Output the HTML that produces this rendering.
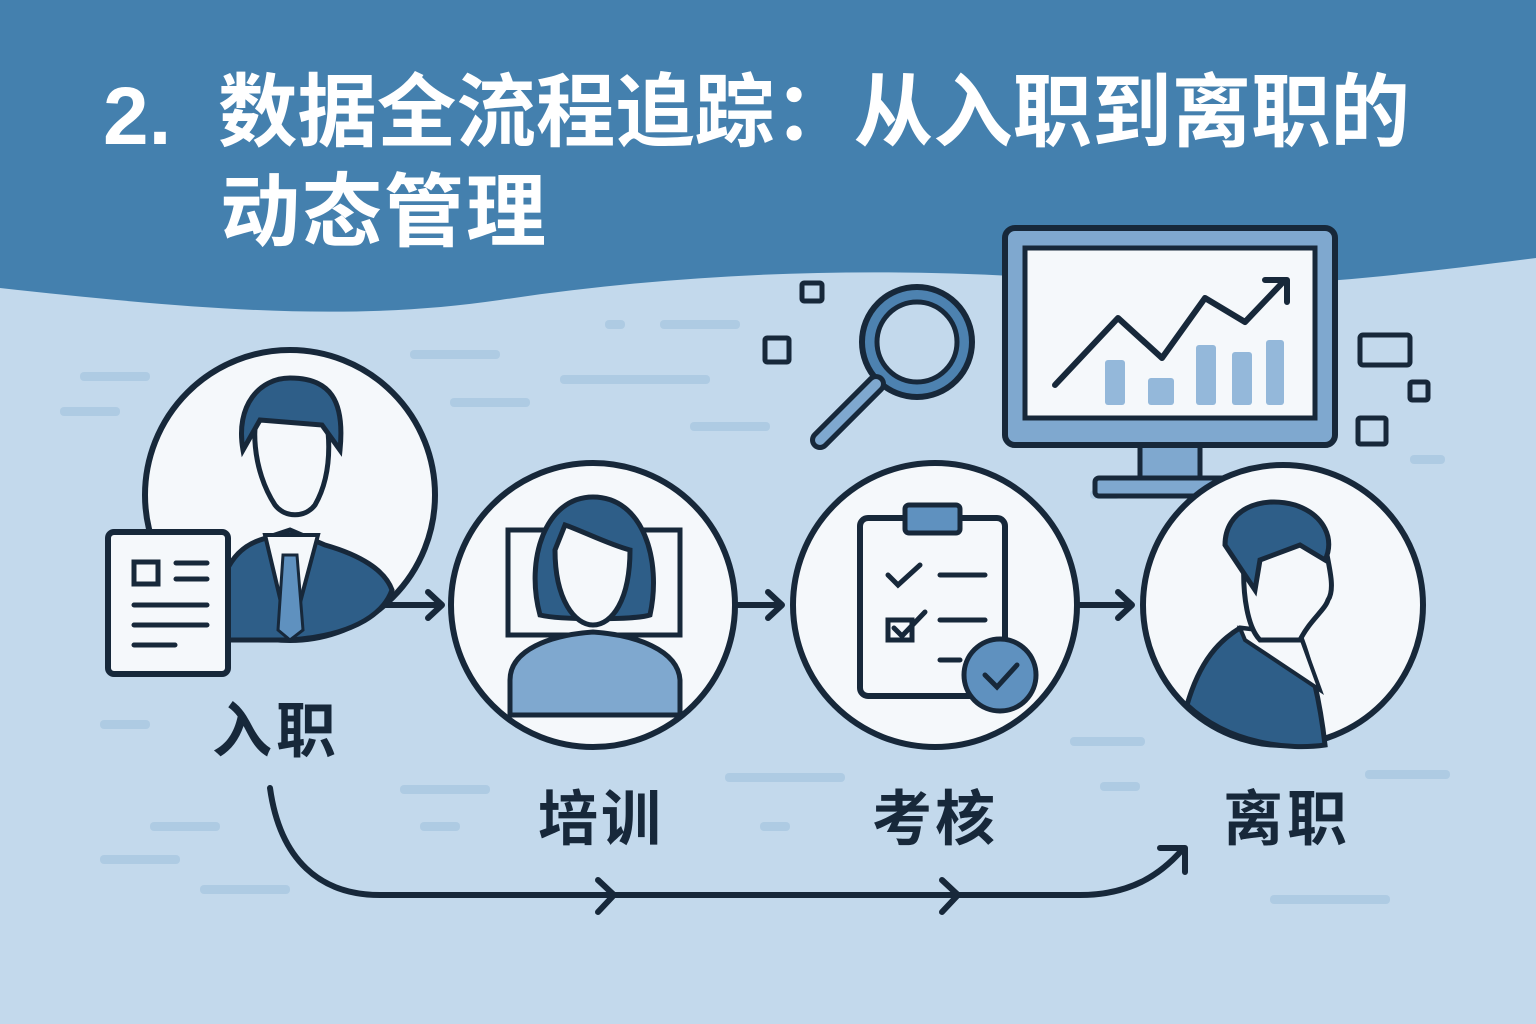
<!DOCTYPE html>
<html><head><meta charset="utf-8"><style>
html,body{margin:0;padding:0;width:1536px;height:1024px;overflow:hidden;background:#c3d9ec}
svg{display:block}
text{font-family:"Liberation Sans","Noto Sans CJK SC",sans-serif;font-weight:bold}
</style></head><body>
<svg width="1536" height="1024" viewBox="0 0 1536 1024" xmlns="http://www.w3.org/2000/svg">
<rect width="1536" height="1024" fill="#c3d9ec"/>
<path d="M0 0H1536V258C1400 275 1250 295 1100 282C900 265 700 270 500 300C350 322 200 310 0 288Z" fill="#4480ae"/>
<g fill="#aecbe3">
<rect x="80" y="372" width="70" height="9" rx="4"/><rect x="60" y="407" width="60" height="9" rx="4"/>
<rect x="410" y="350" width="90" height="9" rx="4"/><rect x="560" y="375" width="150" height="9" rx="4"/>
<rect x="605" y="320" width="20" height="9" rx="4"/><rect x="660" y="320" width="80" height="9" rx="4"/>
<rect x="450" y="398" width="80" height="9" rx="4"/><rect x="690" y="422" width="80" height="9" rx="4"/>
<rect x="100" y="720" width="50" height="9" rx="4"/><rect x="150" y="822" width="70" height="9" rx="4"/>
<rect x="100" y="855" width="80" height="9" rx="4"/><rect x="200" y="885" width="90" height="9" rx="4"/>
<rect x="400" y="785" width="90" height="9" rx="4"/><rect x="420" y="822" width="40" height="9" rx="4"/>
<rect x="725" y="773" width="120" height="9" rx="4"/><rect x="760" y="822" width="30" height="9" rx="4"/>
<rect x="1070" y="737" width="75" height="9" rx="4"/><rect x="1100" y="782" width="40" height="9" rx="4"/>
<rect x="1365" y="770" width="85" height="9" rx="4"/><rect x="1270" y="895" width="120" height="9" rx="4"/>
<rect x="1410" y="455" width="35" height="9" rx="4"/><rect x="1090" y="490" width="30" height="9" rx="4"/>
</g>
<text x="103" y="144" font-size="82" fill="#fff">2.</text>
<text x="218" y="140" font-size="80" fill="#fff" textLength="1192" lengthAdjust="spacingAndGlyphs">数据全流程追踪：从入职到离职的</text>
<text x="220" y="240" font-size="80" fill="#fff" letter-spacing="2">动态管理</text>
<g fill="none" stroke="#17283a" stroke-width="5">
<rect x="802" y="283" width="20" height="18" rx="2"/><rect x="765" y="338" width="24" height="24" rx="2"/>
<rect x="1360" y="335" width="50" height="30" rx="3"/><rect x="1410" y="382" width="18" height="18" rx="2"/>
<rect x="1358" y="418" width="28" height="26" rx="2"/>
</g>
<circle cx="917" cy="342" r="55" fill="#4d82b0" stroke="#17283a" stroke-width="6"/>
<circle cx="917" cy="342" r="40" fill="#c3d9ec" stroke="#17283a" stroke-width="5"/>
<path d="M876 384L820 440" stroke="#17283a" stroke-width="20" stroke-linecap="round"/>
<path d="M876 384L820 440" stroke="#7fa8cf" stroke-width="10" stroke-linecap="round"/>
<rect x="1140" y="443" width="60" height="38" fill="#7fa8cf" stroke="#17283a" stroke-width="5"/>
<rect x="1095" y="478" width="140" height="18" rx="4" fill="#7fa8cf" stroke="#17283a" stroke-width="5"/>
<rect x="1005" y="228" width="330" height="217" rx="10" fill="#7fa8cf" stroke="#17283a" stroke-width="6"/>
<rect x="1025" y="248" width="290" height="170" fill="#f5f8fb" stroke="#17283a" stroke-width="5"/>
<g fill="#94b8da"><rect x="1105" y="360" width="20" height="45" rx="3"/><rect x="1148" y="378" width="26" height="27" rx="3"/><rect x="1196" y="345" width="20" height="60" rx="3"/><rect x="1232" y="352" width="20" height="53" rx="3"/><rect x="1266" y="340" width="18" height="65" rx="3"/></g>
<path d="M1055 385L1118 318L1162 358L1205 298L1245 322L1285 280M1265 280H1287V302" fill="none" stroke="#17283a" stroke-width="6" stroke-linejoin="round" stroke-linecap="round"/>
<g stroke="#17283a" stroke-width="6" fill="none" stroke-linecap="round" stroke-linejoin="round">
<path d="M380 605H440M428 592L442 605L428 618"/><path d="M735 605H780M768 592L782 605L768 618"/><path d="M1078 605H1130M1118 592L1132 605L1118 618"/>
<path d="M270 788C280 860 320 895 380 895H1080C1130 895 1160 875 1182 850M1160 848H1185V872"/>
<path d="M598 880L614 895L598 912M942 880L958 895L942 912"/>
</g>
<circle cx="290" cy="495" r="145" fill="#f5f8fb" stroke="#17283a" stroke-width="6"/>
<path d="M215 640C215 580 230 550 260 540L290 530L325 545C360 555 385 570 392 590C385 610 360 635 290 640Z" fill="#2e5e88" stroke="#17283a" stroke-width="5"/>
<path d="M265 535L290 640L318 535Z" fill="#f5f8fb" stroke="#17283a" stroke-width="4"/>
<path d="M283 555L297 555L303 630L290 640L278 630Z" fill="#5f91bf" stroke="#17283a" stroke-width="3"/>
<path d="M262 400C250 420 252 470 275 505C285 518 305 518 315 505C335 470 330 420 320 400Z" fill="#f5f8fb" stroke="#17283a" stroke-width="5"/>
<path d="M243 450C235 405 260 378 290 378C330 378 345 400 340 450L322 425L260 420Z" fill="#2e5e88" stroke="#17283a" stroke-width="5"/>
<rect x="108" y="532" width="120" height="142" rx="6" fill="#f5f8fb" stroke="#17283a" stroke-width="6"/>
<g stroke="#17283a" stroke-width="5" stroke-linecap="round" fill="none"><rect x="134" y="562" width="24" height="22"/><path d="M176 563H207M176 579H207M134 605H207M134 625H207M134 645H175"/></g>
<circle cx="593" cy="605" r="142" fill="#f5f8fb" stroke="#17283a" stroke-width="6"/>
<rect x="508" y="530" width="172" height="105" fill="#f5f8fb" stroke="#17283a" stroke-width="5"/>
<path d="M510 715V680C510 650 550 635 593 632C636 635 678 650 680 680V715Z" fill="#7fa8cf" stroke="#17283a" stroke-width="5"/>
<path d="M540 615C525 560 545 497 593 497C643 497 662 560 650 615C635 620 560 620 540 615Z" fill="#2e5e88" stroke="#17283a" stroke-width="5"/>
<path d="M555 550C555 600 575 625 593 625C612 625 630 600 630 550C610 545 580 530 565 525Z" fill="#f5f8fb" stroke="#17283a" stroke-width="5"/>
<circle cx="935" cy="605" r="142" fill="#f5f8fb" stroke="#17283a" stroke-width="6"/>
<rect x="860" y="518" width="145" height="178" rx="8" fill="#f5f8fb" stroke="#17283a" stroke-width="6"/>
<rect x="905" y="505" width="55" height="28" rx="4" fill="#5f91bf" stroke="#17283a" stroke-width="5"/>
<g stroke="#17283a" stroke-width="5" stroke-linecap="round" fill="none"><path d="M888 575L898 585L920 565M940 575H985M888 620H912V640H888ZM894 628L902 636L925 612M940 620H985M940 660H960"/></g>
<circle cx="1000" cy="675" r="36" fill="#5f91bf" stroke="#17283a" stroke-width="5"/>
<path d="M985 675L997 687L1017 665" fill="none" stroke="#17283a" stroke-width="5" stroke-linecap="round"/>
<circle cx="1283" cy="605" r="140" fill="#f5f8fb" stroke="#17283a" stroke-width="6"/>
<path d="M1187 705C1200 660 1220 640 1240 628L1300 635C1310 660 1320 700 1325 745C1290 750 1230 745 1187 705Z" fill="#2e5e88" stroke="#17283a" stroke-width="5"/>
<path d="M1240 628L1300 635L1320 690L1245 640Z" fill="#f5f8fb" stroke="#17283a" stroke-width="4"/>
<path d="M1245 545C1240 600 1250 630 1260 640L1300 640C1310 620 1325 610 1328 600C1335 590 1330 570 1325 545Z" fill="#f5f8fb" stroke="#17283a" stroke-width="5"/>
<path d="M1225 545C1225 510 1260 495 1295 505C1325 515 1335 540 1325 560L1300 545L1260 560L1255 590Z" fill="#2e5e88" stroke="#17283a" stroke-width="5"/>
<g font-size="60" fill="#17283a">
<text x="212" y="752" letter-spacing="4">入职</text><text x="538" y="840" letter-spacing="3">培训</text><text x="872" y="840" letter-spacing="3">考核</text><text x="1223" y="840" letter-spacing="4">离职</text>
</g>
</svg>
</body></html>
